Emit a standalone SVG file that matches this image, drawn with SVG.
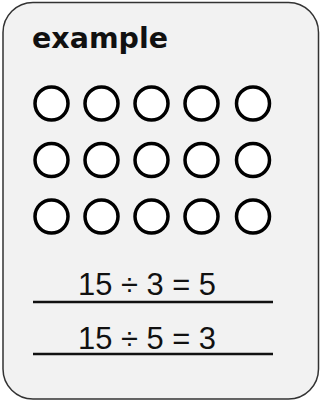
<svg xmlns="http://www.w3.org/2000/svg" width="321" height="402" viewBox="0 0 321 402">
<style>
.dot{fill:#fff;stroke:#000;stroke-width:3.5}
.eq{font-family:"Liberation Sans",Arial,sans-serif;font-size:31px;fill:#111}
.rule{stroke:#111;stroke-width:2.5}
</style>
<g id="card">
<rect x="3" y="2.5" width="315.5" height="396.5" rx="30" ry="30" fill="#f2f2f2" stroke="#333" stroke-width="1.5"/>
<text x="32" y="48" font-family="'DejaVu Sans',sans-serif" font-weight="bold" font-size="28" textLength="136" lengthAdjust="spacingAndGlyphs" fill="#111">example</text>
</g>
<g id="dots">
<circle class="dot" cx="51.5" cy="103.5" r="16.5"/>
<circle class="dot" cx="101.5" cy="103.5" r="16.5"/>
<circle class="dot" cx="151.5" cy="103.5" r="16.5"/>
<circle class="dot" cx="201.5" cy="103.5" r="16.5"/>
<circle class="dot" cx="253" cy="103.5" r="16.5"/>
<circle class="dot" cx="51.5" cy="160" r="16.5"/>
<circle class="dot" cx="101.5" cy="160" r="16.5"/>
<circle class="dot" cx="151.5" cy="160" r="16.5"/>
<circle class="dot" cx="201.5" cy="160" r="16.5"/>
<circle class="dot" cx="253" cy="160" r="16.5"/>
<circle class="dot" cx="51.5" cy="216.5" r="16.5"/>
<circle class="dot" cx="101.5" cy="216.5" r="16.5"/>
<circle class="dot" cx="151.5" cy="216.5" r="16.5"/>
<circle class="dot" cx="201.5" cy="216.5" r="16.5"/>
<circle class="dot" cx="253" cy="216.5" r="16.5"/>
</g>
<g id="eq1">
<text class="eq" x="78" y="295" textLength="138" lengthAdjust="spacingAndGlyphs">15 ÷ 3 = 5</text>
<line class="rule" x1="33" y1="302" x2="273" y2="302"/>
</g>
<g id="eq2">
<text class="eq" x="78" y="348.5" textLength="138" lengthAdjust="spacingAndGlyphs">15 ÷ 5 = 3</text>
<line class="rule" x1="33" y1="354" x2="273" y2="354"/>
</g>
</svg>
